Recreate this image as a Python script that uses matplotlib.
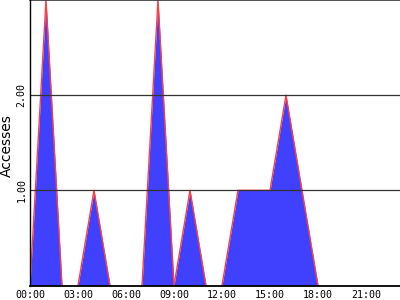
import numpy as np
import matplotlib.pyplot as plt

# accesses per day, corner points of each burst (hours, value)
t1 = [0, 1, 2];          v1 = [0, 3.0, 0]
t2 = [3, 4, 5];          v2 = [0, 1.0, 0]
t3 = [7, 8, 9];          v3 = [0, 3.0, 0]
t4 = [9, 10, 11];        v4 = [0, 1.0, 0]
t5 = [12, 13, 15, 16, 18]; v5 = [0, 1.0, 1.0, 2.0, 0]

xt = [0, 3, 6, 9, 12, 15, 18, 21]
xtl = ['00:00', '03:00', '06:00', '09:00', '12:00', '15:00', '18:00', '21:00']
yt = [1, 2]
ytl = ['1.00', '2.00']

blue = '#4040ff'
red = '#ff4040'

fig = plt.figure(figsize=(4, 3), dpi=100)
ax = fig.add_axes([30/400, 14.5/300, 370/400, 285.5/300])

for t, v in [(t1, v1), (t2, v2), (t3, v3), (t4, v4), (t5, v5)]:
    ax.fill_between(t, v, 0, color=blue, lw=0, zorder=2)
    ax.plot(t, v, color=red, lw=1.0, zorder=3)

ax.set_xlim(0, 370/16)
ax.set_ylim(0, 3)

for y in yt:
    ax.axhline(y, color='#333333', lw=0.9, zorder=4)
ax.axhline(3, color='#333333', lw=1.2, zorder=4, clip_on=False)

ax.set_xticks(xt)
ax.set_xticklabels(xtl, family='DejaVu Sans Mono', fontsize=7.2)
ax.set_yticks(yt)
ax.set_yticklabels(ytl, family='DejaVu Sans Mono', fontsize=7.2, rotation=90, va='center')
ax.tick_params(length=0)
ax.tick_params(axis='x', pad=3)
ax.tick_params(axis='y', pad=2.5)

ax.set_ylabel('Accesses', fontsize=10, labelpad=2)
ax.yaxis.set_label_coords(-16/370, 140/285.5)

for s in ['top', 'right']:
    ax.spines[s].set_visible(False)
ax.spines['left'].set_color('black')
ax.spines['left'].set_linewidth(1.0)
ax.spines['bottom'].set_color('black')
ax.spines['bottom'].set_linewidth(1.3)
ax.spines['left'].set_zorder(5)
ax.spines['bottom'].set_zorder(5)

fig.savefig('out.png', dpi=100)
